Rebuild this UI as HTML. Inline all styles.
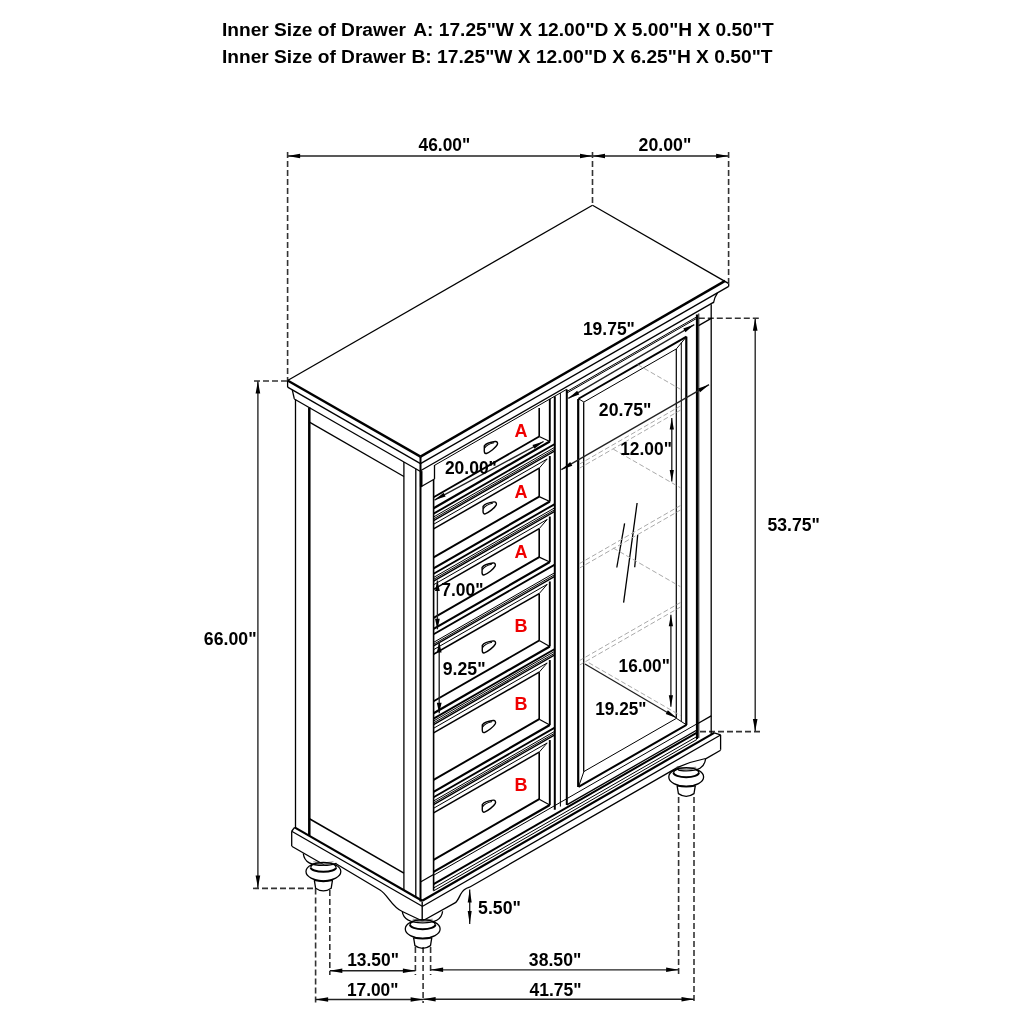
<!DOCTYPE html>
<html><head><meta charset="utf-8"><style>
html,body{margin:0;padding:0;background:#fff;}
svg{display:block;will-change:transform;}
text{font-family:"Liberation Sans",sans-serif;font-weight:bold;}
</style></head><body>
<svg width="1024" height="1024" viewBox="0 0 1024 1024">
<rect width="1024" height="1024" fill="#fff"/>
<g stroke-linecap="butt">
<line x1="287.60" y1="156.00" x2="592.50" y2="156.00" stroke="#222" stroke-width="1.35" />
<polygon points="287.60,156.00 300.10,153.70 300.10,158.30" fill="#000"/>
<polygon points="592.50,156.00 580.00,158.30 580.00,153.70" fill="#000"/>
<line x1="592.50" y1="156.00" x2="728.60" y2="156.00" stroke="#222" stroke-width="1.35" />
<polygon points="592.50,156.00 605.00,153.70 605.00,158.30" fill="#000"/>
<polygon points="728.60,156.00 716.10,158.30 716.10,153.70" fill="#000"/>
<line x1="287.60" y1="152.00" x2="287.60" y2="380.50" stroke="#333" stroke-width="1.6" stroke-dasharray="6 3"/>
<line x1="592.50" y1="152.00" x2="592.50" y2="205.00" stroke="#333" stroke-width="1.6" stroke-dasharray="6 3"/>
<line x1="728.60" y1="152.00" x2="728.60" y2="283.40" stroke="#333" stroke-width="1.6" stroke-dasharray="6 3"/>
<line x1="257.90" y1="381.00" x2="257.90" y2="888.00" stroke="#222" stroke-width="1.35" />
<polygon points="257.90,381.00 260.20,393.50 255.60,393.50" fill="#000"/>
<polygon points="257.90,888.00 255.60,875.50 260.20,875.50" fill="#000"/>
<line x1="254.00" y1="381.00" x2="287.60" y2="381.00" stroke="#333" stroke-width="1.6" stroke-dasharray="6 3"/>
<line x1="253.00" y1="888.40" x2="316.00" y2="888.40" stroke="#333" stroke-width="1.6" stroke-dasharray="6 3"/>
<line x1="755.20" y1="318.30" x2="755.20" y2="731.60" stroke="#222" stroke-width="1.35" />
<polygon points="755.20,318.30 757.50,330.80 752.90,330.80" fill="#000"/>
<polygon points="755.20,731.60 752.90,719.10 757.50,719.10" fill="#000"/>
<line x1="698.80" y1="318.30" x2="759.00" y2="318.30" stroke="#333" stroke-width="1.6" stroke-dasharray="6 3"/>
<line x1="700.00" y1="731.60" x2="760.00" y2="731.60" stroke="#333" stroke-width="1.6" stroke-dasharray="6 3"/>
<line x1="315.60" y1="888.40" x2="315.60" y2="1003.00" stroke="#333" stroke-width="1.6" stroke-dasharray="6 3"/>
<line x1="329.80" y1="890.00" x2="329.80" y2="975.00" stroke="#333" stroke-width="1.6" stroke-dasharray="6 3"/>
<line x1="415.40" y1="947.00" x2="415.40" y2="975.00" stroke="#333" stroke-width="1.6" stroke-dasharray="6 3"/>
<line x1="423.10" y1="947.00" x2="423.10" y2="1003.00" stroke="#333" stroke-width="1.6" stroke-dasharray="6 3"/>
<line x1="430.60" y1="947.00" x2="430.60" y2="975.00" stroke="#333" stroke-width="1.6" stroke-dasharray="6 3"/>
<line x1="678.60" y1="797.00" x2="678.60" y2="975.00" stroke="#333" stroke-width="1.6" stroke-dasharray="6 3"/>
<line x1="694.00" y1="797.00" x2="694.00" y2="1003.00" stroke="#333" stroke-width="1.6" stroke-dasharray="6 3"/>
<line x1="329.80" y1="970.70" x2="415.40" y2="970.70" stroke="#222" stroke-width="1.35" />
<polygon points="329.80,970.70 342.30,968.40 342.30,973.00" fill="#000"/>
<polygon points="415.40,970.70 402.90,973.00 402.90,968.40" fill="#000"/>
<line x1="315.60" y1="999.50" x2="423.10" y2="999.50" stroke="#222" stroke-width="1.35" />
<polygon points="315.60,999.50 328.10,997.20 328.10,1001.80" fill="#000"/>
<polygon points="423.10,999.50 410.60,1001.80 410.60,997.20" fill="#000"/>
<line x1="430.60" y1="969.80" x2="678.60" y2="969.80" stroke="#222" stroke-width="1.35" />
<polygon points="430.60,969.80 443.10,967.50 443.10,972.10" fill="#000"/>
<polygon points="678.60,969.80 666.10,972.10 666.10,967.50" fill="#000"/>
<line x1="423.10" y1="999.20" x2="694.00" y2="999.20" stroke="#222" stroke-width="1.35" />
<polygon points="423.10,999.20 435.60,996.90 435.60,1001.50" fill="#000"/>
<polygon points="694.00,999.20 681.50,1001.50 681.50,996.90" fill="#000"/>
<line x1="469.70" y1="889.50" x2="469.70" y2="924.00" stroke="#222" stroke-width="1.35" />
<polygon points="469.70,889.50 471.70,902.50 467.70,902.50" fill="#000"/>
<polygon points="469.70,924.00 467.70,911.00 471.70,911.00" fill="#000"/>
<line x1="592.50" y1="205.20" x2="287.60" y2="380.50" stroke="#000" stroke-width="1.3" />
<line x1="592.50" y1="205.20" x2="728.40" y2="283.40" stroke="#000" stroke-width="1.3" />
<line x1="287.60" y1="380.50" x2="420.50" y2="456.60" stroke="#000" stroke-width="2.4" />
<line x1="420.50" y1="456.60" x2="725.10" y2="280.90" stroke="#000" stroke-width="2.4" />
<line x1="287.60" y1="387.18" x2="420.50" y2="463.60" stroke="#000" stroke-width="1.3" />
<line x1="420.50" y1="463.60" x2="728.70" y2="286.38" stroke="#000" stroke-width="1.3" />
<line x1="287.60" y1="380.50" x2="287.60" y2="387.18" stroke="#000" stroke-width="1.3" />
<line x1="728.70" y1="283.40" x2="728.70" y2="286.38" stroke="#000" stroke-width="1.3" />
<line x1="294.30" y1="398.94" x2="420.50" y2="471.50" stroke="#000" stroke-width="1.3" />
<line x1="420.50" y1="470.80" x2="713.40" y2="302.38" stroke="#000" stroke-width="1.3" />
<path d="M 292.3 389.89 Q 293.2 394 294.3 398.94" stroke="#000" stroke-width="1.3" fill="none" />
<path d="M 717.5 292.83 Q 714.5 297 713.4 303.08" stroke="#000" stroke-width="1.3" fill="none" />
<line x1="295.50" y1="399.62" x2="295.50" y2="827.92" stroke="#000" stroke-width="1.3" />
<line x1="309.30" y1="407.56" x2="309.30" y2="835.86" stroke="#000" stroke-width="2.5" />
<line x1="403.90" y1="461.95" x2="403.90" y2="890.25" stroke="#000" stroke-width="1.3" />
<line x1="415.80" y1="468.80" x2="415.80" y2="897.10" stroke="#000" stroke-width="1.3" />
<line x1="309.00" y1="421.89" x2="403.90" y2="476.45" stroke="#000" stroke-width="1.3" />
<line x1="309.00" y1="818.49" x2="403.90" y2="873.06" stroke="#000" stroke-width="1.5" />
<line x1="294.60" y1="827.41" x2="422.20" y2="900.78" stroke="#000" stroke-width="2.2" />
<line x1="291.70" y1="831.24" x2="422.20" y2="906.28" stroke="#000" stroke-width="1.3" />
<line x1="294.60" y1="827.41" x2="291.70" y2="831.24" stroke="#000" stroke-width="1.3" />
<line x1="291.70" y1="831.24" x2="291.70" y2="845.90" stroke="#000" stroke-width="1.3" />
<line x1="291.70" y1="846.24" x2="324.30" y2="864.99" stroke="#000" stroke-width="1.3" />
<path d="M 336 863.81 L 380 890.01 C 388 894.91, 392 907.41, 402.3 911.5 L 422.4 921.0" stroke="#000" stroke-width="1.3" fill="none" />
<line x1="420.50" y1="456.60" x2="420.50" y2="901.50" stroke="#000" stroke-width="2.0" />
<line x1="422.20" y1="901.50" x2="422.20" y2="920.90" stroke="#000" stroke-width="1.4" />
<line x1="434.50" y1="464.95" x2="434.50" y2="478.95" stroke="#000" stroke-width="1.3" />
<line x1="420.50" y1="487.00" x2="434.50" y2="478.95" stroke="#000" stroke-width="1.3" />
<line x1="421.20" y1="471.10" x2="421.20" y2="486.60" stroke="#000" stroke-width="2.6" />
<line x1="433.60" y1="479.47" x2="433.60" y2="890.87" stroke="#000" stroke-width="1.6" />
<line x1="420.50" y1="882.00" x2="433.60" y2="874.47" stroke="#000" stroke-width="1.3" />
<line x1="434.50" y1="465.35" x2="566.80" y2="389.28" stroke="#000" stroke-width="1.0" />
<line x1="554.80" y1="396.28" x2="554.80" y2="809.78" stroke="#000" stroke-width="2.0" />
<line x1="560.40" y1="393.06" x2="560.40" y2="806.56" stroke="#000" stroke-width="1.0" />
<line x1="566.80" y1="389.38" x2="566.80" y2="804.88" stroke="#000" stroke-width="2.0" />
<line x1="697.00" y1="314.51" x2="697.00" y2="739.01" stroke="#000" stroke-width="2.2" />
<line x1="711.20" y1="304.35" x2="711.20" y2="734.85" stroke="#000" stroke-width="1.3" />
<line x1="697.00" y1="724.01" x2="711.20" y2="715.85" stroke="#000" stroke-width="1.3" />
<line x1="698.60" y1="325.59" x2="711.20" y2="318.35" stroke="#000" stroke-width="1.3" />
<line x1="698.80" y1="313.48" x2="698.80" y2="737.98" stroke="#000" stroke-width="1.0" />
<line x1="433.60" y1="497.27" x2="539.20" y2="436.55" stroke="#000" stroke-width="1.9" />
<line x1="539.20" y1="408.05" x2="539.20" y2="436.55" stroke="#000" stroke-width="1.6" />
<line x1="549.80" y1="398.95" x2="549.80" y2="441.45" stroke="#000" stroke-width="1.9" />
<line x1="433.60" y1="508.27" x2="549.80" y2="441.45" stroke="#000" stroke-width="2.2" />
<line x1="539.20" y1="436.55" x2="549.80" y2="441.45" stroke="#000" stroke-width="1.2" />
<g transform="translate(490.80,447.68)"><path d="M -6.5,-1.8 C -5,-4 -1,-5.5 4.4,-6.2 C 6.5,-6.4 7.2,-4.5 6.5,-3 C 5,0 -1,4.5 -4.4,5.8 C -6.2,6.3 -6.8,4.5 -6.5,1.5 Z" fill="none" stroke="#000" stroke-width="1.4"/><path d="M -6.3,0.6 C -4.5,-2.6 -0.5,-4.2 3.2,-4.9" fill="none" stroke="#000" stroke-width="1.1"/></g>
<line x1="433.60" y1="528.87" x2="539.20" y2="468.15" stroke="#000" stroke-width="1.5" />
<line x1="433.60" y1="524.27" x2="547.20" y2="458.95" stroke="#000" stroke-width="1.0" />
<line x1="539.20" y1="468.15" x2="547.20" y2="458.95" stroke="#000" stroke-width="1.0" />
<line x1="433.60" y1="557.37" x2="539.20" y2="496.65" stroke="#000" stroke-width="1.9" />
<line x1="539.20" y1="468.15" x2="539.20" y2="496.65" stroke="#000" stroke-width="1.6" />
<line x1="549.80" y1="456.05" x2="549.80" y2="501.55" stroke="#000" stroke-width="1.9" />
<line x1="433.60" y1="568.37" x2="549.80" y2="501.55" stroke="#000" stroke-width="2.2" />
<line x1="539.20" y1="496.65" x2="549.80" y2="501.55" stroke="#000" stroke-width="1.2" />
<g transform="translate(489.60,508.07)"><path d="M -6.5,-1.8 C -5,-4 -1,-5.5 4.4,-6.2 C 6.5,-6.4 7.2,-4.5 6.5,-3 C 5,0 -1,4.5 -4.4,5.8 C -6.2,6.3 -6.8,4.5 -6.5,1.5 Z" fill="none" stroke="#000" stroke-width="1.4"/><path d="M -6.3,0.6 C -4.5,-2.6 -0.5,-4.2 3.2,-4.9" fill="none" stroke="#000" stroke-width="1.1"/></g>
<line x1="433.60" y1="589.37" x2="539.20" y2="528.65" stroke="#000" stroke-width="1.5" />
<line x1="433.60" y1="584.77" x2="547.20" y2="519.45" stroke="#000" stroke-width="1.0" />
<line x1="539.20" y1="528.65" x2="547.20" y2="519.45" stroke="#000" stroke-width="1.0" />
<line x1="433.60" y1="617.87" x2="539.20" y2="557.15" stroke="#000" stroke-width="1.9" />
<line x1="539.20" y1="528.65" x2="539.20" y2="557.15" stroke="#000" stroke-width="1.6" />
<line x1="549.80" y1="516.55" x2="549.80" y2="562.05" stroke="#000" stroke-width="1.9" />
<line x1="433.60" y1="628.87" x2="549.80" y2="562.05" stroke="#000" stroke-width="2.2" />
<line x1="539.20" y1="557.15" x2="549.80" y2="562.05" stroke="#000" stroke-width="1.2" />
<g transform="translate(488.60,569.14)"><path d="M -6.5,-1.8 C -5,-4 -1,-5.5 4.4,-6.2 C 6.5,-6.4 7.2,-4.5 6.5,-3 C 5,0 -1,4.5 -4.4,5.8 C -6.2,6.3 -6.8,4.5 -6.5,1.5 Z" fill="none" stroke="#000" stroke-width="1.4"/><path d="M -6.3,0.6 C -4.5,-2.6 -0.5,-4.2 3.2,-4.9" fill="none" stroke="#000" stroke-width="1.1"/></g>
<line x1="433.60" y1="654.27" x2="539.20" y2="593.55" stroke="#000" stroke-width="1.5" />
<line x1="433.60" y1="649.67" x2="547.20" y2="584.35" stroke="#000" stroke-width="1.0" />
<line x1="539.20" y1="593.55" x2="547.20" y2="584.35" stroke="#000" stroke-width="1.0" />
<line x1="433.60" y1="701.27" x2="539.20" y2="640.55" stroke="#000" stroke-width="1.9" />
<line x1="539.20" y1="593.55" x2="539.20" y2="640.55" stroke="#000" stroke-width="1.6" />
<line x1="549.80" y1="581.45" x2="549.80" y2="646.45" stroke="#000" stroke-width="1.9" />
<line x1="433.60" y1="713.27" x2="549.80" y2="646.45" stroke="#000" stroke-width="2.2" />
<line x1="539.20" y1="640.55" x2="549.80" y2="646.45" stroke="#000" stroke-width="1.2" />
<g transform="translate(488.80,647.13)"><path d="M -6.5,-1.8 C -5,-4 -1,-5.5 4.4,-6.2 C 6.5,-6.4 7.2,-4.5 6.5,-3 C 5,0 -1,4.5 -4.4,5.8 C -6.2,6.3 -6.8,4.5 -6.5,1.5 Z" fill="none" stroke="#000" stroke-width="1.4"/><path d="M -6.3,0.6 C -4.5,-2.6 -0.5,-4.2 3.2,-4.9" fill="none" stroke="#000" stroke-width="1.1"/></g>
<line x1="433.60" y1="732.87" x2="539.20" y2="672.15" stroke="#000" stroke-width="1.5" />
<line x1="433.60" y1="728.27" x2="547.20" y2="662.95" stroke="#000" stroke-width="1.0" />
<line x1="539.20" y1="672.15" x2="547.20" y2="662.95" stroke="#000" stroke-width="1.0" />
<line x1="433.60" y1="779.87" x2="539.20" y2="719.15" stroke="#000" stroke-width="1.9" />
<line x1="539.20" y1="672.15" x2="539.20" y2="719.15" stroke="#000" stroke-width="1.6" />
<line x1="549.80" y1="660.05" x2="549.80" y2="725.05" stroke="#000" stroke-width="1.9" />
<line x1="433.60" y1="791.87" x2="549.80" y2="725.05" stroke="#000" stroke-width="2.2" />
<line x1="539.20" y1="719.15" x2="549.80" y2="725.05" stroke="#000" stroke-width="1.2" />
<g transform="translate(488.80,726.73)"><path d="M -6.5,-1.8 C -5,-4 -1,-5.5 4.4,-6.2 C 6.5,-6.4 7.2,-4.5 6.5,-3 C 5,0 -1,4.5 -4.4,5.8 C -6.2,6.3 -6.8,4.5 -6.5,1.5 Z" fill="none" stroke="#000" stroke-width="1.4"/><path d="M -6.3,0.6 C -4.5,-2.6 -0.5,-4.2 3.2,-4.9" fill="none" stroke="#000" stroke-width="1.1"/></g>
<line x1="433.60" y1="812.87" x2="539.20" y2="752.15" stroke="#000" stroke-width="1.5" />
<line x1="433.60" y1="808.27" x2="547.20" y2="742.95" stroke="#000" stroke-width="1.0" />
<line x1="539.20" y1="752.15" x2="547.20" y2="742.95" stroke="#000" stroke-width="1.0" />
<line x1="433.60" y1="859.87" x2="539.20" y2="799.15" stroke="#000" stroke-width="1.9" />
<line x1="539.20" y1="752.15" x2="539.20" y2="799.15" stroke="#000" stroke-width="1.6" />
<line x1="549.80" y1="740.05" x2="549.80" y2="805.05" stroke="#000" stroke-width="1.9" />
<line x1="433.60" y1="871.87" x2="549.80" y2="805.05" stroke="#000" stroke-width="2.2" />
<line x1="539.20" y1="799.15" x2="549.80" y2="805.05" stroke="#000" stroke-width="1.2" />
<g transform="translate(488.80,806.33)"><path d="M -6.5,-1.8 C -5,-4 -1,-5.5 4.4,-6.2 C 6.5,-6.4 7.2,-4.5 6.5,-3 C 5,0 -1,4.5 -4.4,5.8 C -6.2,6.3 -6.8,4.5 -6.5,1.5 Z" fill="none" stroke="#000" stroke-width="1.4"/><path d="M -6.3,0.6 C -4.5,-2.6 -0.5,-4.2 3.2,-4.9" fill="none" stroke="#000" stroke-width="1.1"/></g>
<line x1="433.60" y1="513.67" x2="554.80" y2="443.98" stroke="#000" stroke-width="1.9" />
<line x1="433.60" y1="516.97" x2="554.80" y2="447.28" stroke="#000" stroke-width="1.0" />
<line x1="433.60" y1="518.87" x2="554.80" y2="449.18" stroke="#000" stroke-width="1.0" />
<line x1="433.60" y1="520.57" x2="554.80" y2="450.88" stroke="#000" stroke-width="1.4" />
<line x1="433.60" y1="573.77" x2="554.80" y2="504.08" stroke="#000" stroke-width="1.9" />
<line x1="433.60" y1="577.47" x2="554.80" y2="507.78" stroke="#000" stroke-width="1.0" />
<line x1="433.60" y1="579.37" x2="554.80" y2="509.68" stroke="#000" stroke-width="1.0" />
<line x1="433.60" y1="581.07" x2="554.80" y2="511.38" stroke="#000" stroke-width="1.4" />
<line x1="433.60" y1="634.27" x2="554.80" y2="564.58" stroke="#000" stroke-width="1.9" />
<line x1="433.60" y1="642.37" x2="554.80" y2="572.68" stroke="#000" stroke-width="1.0" />
<line x1="433.60" y1="644.27" x2="554.80" y2="574.58" stroke="#000" stroke-width="1.0" />
<line x1="433.60" y1="645.97" x2="554.80" y2="576.28" stroke="#000" stroke-width="1.4" />
<line x1="433.60" y1="718.67" x2="554.80" y2="648.98" stroke="#000" stroke-width="1.9" />
<line x1="433.60" y1="720.97" x2="554.80" y2="651.28" stroke="#000" stroke-width="1.0" />
<line x1="433.60" y1="722.87" x2="554.80" y2="653.18" stroke="#000" stroke-width="1.0" />
<line x1="433.60" y1="724.57" x2="554.80" y2="654.88" stroke="#000" stroke-width="1.4" />
<line x1="433.60" y1="797.27" x2="554.80" y2="727.58" stroke="#000" stroke-width="1.9" />
<line x1="433.60" y1="800.97" x2="554.80" y2="731.28" stroke="#000" stroke-width="1.0" />
<line x1="433.60" y1="802.87" x2="554.80" y2="733.18" stroke="#000" stroke-width="1.0" />
<line x1="433.60" y1="804.57" x2="554.80" y2="734.88" stroke="#000" stroke-width="1.4" />
<line x1="433.60" y1="875.27" x2="697.00" y2="723.81" stroke="#000" stroke-width="1.0" />
<line x1="433.60" y1="884.07" x2="697.00" y2="732.61" stroke="#000" stroke-width="2.0" />
<line x1="433.60" y1="887.97" x2="697.00" y2="736.51" stroke="#000" stroke-width="1.0" />
<line x1="433.60" y1="890.87" x2="697.00" y2="739.41" stroke="#000" stroke-width="1.0" />
<line x1="566.80" y1="391.58" x2="697.00" y2="316.71" stroke="#000" stroke-width="1.0" />
<line x1="566.80" y1="393.08" x2="697.00" y2="318.21" stroke="#000" stroke-width="1.0" />
<line x1="578.50" y1="398.75" x2="686.50" y2="336.65" stroke="#000" stroke-width="2.0" />
<line x1="578.50" y1="786.95" x2="686.50" y2="724.85" stroke="#000" stroke-width="2.0" />
<line x1="578.20" y1="398.92" x2="578.20" y2="787.12" stroke="#000" stroke-width="2.2" />
<line x1="686.30" y1="336.77" x2="686.30" y2="724.97" stroke="#000" stroke-width="2.2" />
<line x1="583.90" y1="402.05" x2="676.40" y2="348.86" stroke="#000" stroke-width="1.0" />
<line x1="583.90" y1="771.55" x2="676.40" y2="718.36" stroke="#000" stroke-width="1.0" />
<line x1="583.70" y1="402.16" x2="583.70" y2="771.66" stroke="#000" stroke-width="1.3" />
<line x1="676.30" y1="348.92" x2="676.30" y2="718.42" stroke="#000" stroke-width="1.2" />
<line x1="681.30" y1="342.54" x2="681.30" y2="721.54" stroke="#000" stroke-width="1.0" />
<line x1="578.50" y1="398.75" x2="583.90" y2="402.05" stroke="#000" stroke-width="1.0" />
<line x1="686.50" y1="336.65" x2="676.40" y2="348.86" stroke="#000" stroke-width="1.0" />
<line x1="578.50" y1="786.95" x2="583.90" y2="771.55" stroke="#000" stroke-width="1.0" />
<line x1="686.50" y1="724.85" x2="676.40" y2="718.36" stroke="#000" stroke-width="1.0" />
<line x1="566.80" y1="804.88" x2="697.00" y2="730.01" stroke="#000" stroke-width="1.3" />
<line x1="637.10" y1="503.00" x2="623.60" y2="602.70" stroke="#000" stroke-width="1.3" />
<line x1="624.60" y1="523.40" x2="616.80" y2="567.50" stroke="#000" stroke-width="1.3" />
<line x1="637.70" y1="534.70" x2="634.70" y2="567.30" stroke="#000" stroke-width="1.3" />
<line x1="579.00" y1="464.36" x2="680.50" y2="406.00" stroke="#aaa" stroke-width="1.0" stroke-dasharray="5 2.5"/>
<line x1="579.00" y1="468.46" x2="680.50" y2="410.10" stroke="#aaa" stroke-width="1.0" stroke-dasharray="5 2.5"/>
<line x1="579.00" y1="563.86" x2="680.50" y2="505.50" stroke="#aaa" stroke-width="1.0" stroke-dasharray="5 2.5"/>
<line x1="579.00" y1="568.36" x2="680.50" y2="510.00" stroke="#aaa" stroke-width="1.0" stroke-dasharray="5 2.5"/>
<line x1="579.00" y1="660.86" x2="680.50" y2="602.50" stroke="#aaa" stroke-width="1.0" stroke-dasharray="5 2.5"/>
<line x1="579.00" y1="665.36" x2="680.50" y2="607.00" stroke="#aaa" stroke-width="1.0" stroke-dasharray="5 2.5"/>
<line x1="637.70" y1="364.69" x2="680.50" y2="389.30" stroke="#aaa" stroke-width="1.0" stroke-dasharray="5 2.5"/>
<line x1="613.30" y1="449.16" x2="680.50" y2="487.80" stroke="#aaa" stroke-width="1.0" stroke-dasharray="5 2.5"/>
<line x1="613.20" y1="548.00" x2="680.50" y2="586.70" stroke="#aaa" stroke-width="1.0" stroke-dasharray="5 2.5"/>
<line x1="588.80" y1="662.77" x2="680.50" y2="715.50" stroke="#aaa" stroke-width="1.0" stroke-dasharray="5 2.5"/>
<line x1="422.20" y1="900.82" x2="714.20" y2="732.92" stroke="#000" stroke-width="2.2" />
<line x1="422.20" y1="906.52" x2="720.60" y2="734.94" stroke="#000" stroke-width="1.3" />
<line x1="714.20" y1="732.92" x2="720.60" y2="734.94" stroke="#000" stroke-width="1.3" />
<line x1="720.60" y1="734.94" x2="720.60" y2="749.80" stroke="#000" stroke-width="1.3" />
<path d="M 422.4 921.0 L 455 902.9 C 457.5 901.5, 459 897.5, 460.5 894.5 C 462.5 890.8, 465 888.6, 469.5 887.23 L 677.6 767.37" stroke="#000" stroke-width="1.3" fill="none" />
<path d="M 705.6 758.87 L 720.6 750.24" stroke="#000" stroke-width="1.3" fill="none" />
<line x1="568.30" y1="398.40" x2="694.30" y2="324.60" stroke="#222" stroke-width="1.35" />
<polygon points="568.30,398.40 577.16,390.78 579.28,394.40" fill="#000"/>
<polygon points="694.30,324.60 685.44,332.22 683.32,328.60" fill="#000"/>
<line x1="561.30" y1="469.64" x2="709.00" y2="384.71" stroke="#222" stroke-width="1.35" />
<polygon points="561.30,469.64 570.22,462.09 572.32,465.73" fill="#000"/>
<polygon points="709.00,384.71 700.08,392.27 697.98,388.62" fill="#000"/>
<line x1="671.80" y1="418.00" x2="671.80" y2="481.60" stroke="#222" stroke-width="1.35" />
<polygon points="671.80,418.00 673.90,429.50 669.70,429.50" fill="#000"/>
<polygon points="671.80,481.60 669.70,470.10 673.90,470.10" fill="#000"/>
<line x1="670.90" y1="614.80" x2="670.90" y2="706.70" stroke="#222" stroke-width="1.35" />
<polygon points="670.90,614.80 673.00,626.30 668.80,626.30" fill="#000"/>
<polygon points="670.90,706.70 668.80,695.20 673.00,695.20" fill="#000"/>
<line x1="585.00" y1="664.00" x2="676.70" y2="718.00" stroke="#222" stroke-width="1.35" />
<polygon points="676.70,718.00 665.72,713.97 667.86,710.35" fill="#000"/>
<line x1="434.50" y1="500.10" x2="543.60" y2="441.50" stroke="#222" stroke-width="1.35" />
<polygon points="434.50,500.10 443.64,492.81 445.62,496.51" fill="#000"/>
<polygon points="543.60,441.50 534.46,448.79 532.48,445.09" fill="#000"/>
<line x1="437.40" y1="580.50" x2="437.40" y2="629.30" stroke="#222" stroke-width="1.35" />
<polygon points="437.40,580.50 439.80,591.00 435.00,591.00" fill="#000"/>
<polygon points="437.40,629.30 435.00,618.80 439.80,618.80" fill="#000"/>
<line x1="439.20" y1="642.00" x2="439.20" y2="713.30" stroke="#222" stroke-width="1.35" />
<polygon points="439.20,642.00 441.60,652.50 436.80,652.50" fill="#000"/>
<polygon points="439.20,713.30 436.80,702.80 441.60,702.80" fill="#000"/>
<path d="M 303.30 853.50 C 304.30 862.60, 311.40 865.40, 323.40 865.40 C 335.40 865.40, 335.50 862.60, 336.50 863.60" stroke="#000" stroke-width="1.3" fill="none" />
<path d="M 313.40 861.80 Q 323.40 864.00 333.40 861.80" stroke="#555" stroke-width="0.7" fill="none" />
<path d="M 314.90 862.80 Q 323.40 865.00 331.90 862.80" stroke="#555" stroke-width="0.7" fill="none" />
<path d="M 316.40 863.80 Q 323.40 866.00 330.40 863.80" stroke="#555" stroke-width="0.7" fill="none" />
<ellipse cx="323.40" cy="871.60" rx="17.4" ry="9.3" fill="none" stroke="#000" stroke-width="1.3"/>
<path d="M 310.70 867.40 A 12.7 4.4 0 0 0 336.10 867.40" stroke="#000" stroke-width="2.0" fill="none" />
<path d="M 310.70 867.40 Q 311.10 864.80 313.90 864.20" stroke="#000" stroke-width="1.2" fill="none" />
<path d="M 336.10 867.40 Q 335.70 864.80 332.90 864.20" stroke="#000" stroke-width="1.2" fill="none" />
<path d="M 314.30 880.20 L 315.60 888.20 Q 323.40 893.60 331.20 888.20 L 332.50 880.20" stroke="#000" stroke-width="1.3" fill="none" />
<path d="M 314.30 880.20 Q 323.40 882.40 332.50 880.20" stroke="#000" stroke-width="1.7" fill="none" />
<path d="M 402.30 911.50 C 403.30 920.00, 410.70 922.80, 422.70 922.80 C 434.70 922.80, 441.60 920.00, 442.60 911.20" stroke="#000" stroke-width="1.3" fill="none" />
<path d="M 412.70 919.20 Q 422.70 921.40 432.70 919.20" stroke="#555" stroke-width="0.7" fill="none" />
<path d="M 414.20 920.20 Q 422.70 922.40 431.20 920.20" stroke="#555" stroke-width="0.7" fill="none" />
<path d="M 415.70 921.20 Q 422.70 923.40 429.70 921.20" stroke="#555" stroke-width="0.7" fill="none" />
<ellipse cx="422.70" cy="929.00" rx="17.4" ry="9.3" fill="none" stroke="#000" stroke-width="1.3"/>
<path d="M 410.00 924.80 A 12.7 4.4 0 0 0 435.40 924.80" stroke="#000" stroke-width="2.0" fill="none" />
<path d="M 410.00 924.80 Q 410.40 922.20 413.20 921.60" stroke="#000" stroke-width="1.2" fill="none" />
<path d="M 435.40 924.80 Q 435.00 922.20 432.20 921.60" stroke="#000" stroke-width="1.2" fill="none" />
<path d="M 413.60 937.60 L 414.90 945.60 Q 422.70 951.00 430.50 945.60 L 431.80 937.60" stroke="#000" stroke-width="1.3" fill="none" />
<path d="M 413.60 937.60 Q 422.70 939.80 431.80 937.60" stroke="#000" stroke-width="1.7" fill="none" />
<path d="M 677.60 766.70 C 678.60 768.00, 674.20 770.80, 686.20 770.80 C 698.20 770.80, 704.60 768.00, 705.60 758.50" stroke="#000" stroke-width="1.3" fill="none" />
<path d="M 676.20 767.20 Q 686.20 769.40 696.20 767.20" stroke="#555" stroke-width="0.7" fill="none" />
<path d="M 677.70 768.20 Q 686.20 770.40 694.70 768.20" stroke="#555" stroke-width="0.7" fill="none" />
<path d="M 679.20 769.20 Q 686.20 771.40 693.20 769.20" stroke="#555" stroke-width="0.7" fill="none" />
<ellipse cx="686.20" cy="777.00" rx="17.4" ry="9.3" fill="none" stroke="#000" stroke-width="1.3"/>
<path d="M 673.50 772.80 A 12.7 4.4 0 0 0 698.90 772.80" stroke="#000" stroke-width="2.0" fill="none" />
<path d="M 673.50 772.80 Q 673.90 770.20 676.70 769.60" stroke="#000" stroke-width="1.2" fill="none" />
<path d="M 698.90 772.80 Q 698.50 770.20 695.70 769.60" stroke="#000" stroke-width="1.2" fill="none" />
<path d="M 677.10 785.60 L 678.40 793.60 Q 686.20 799.00 694.00 793.60 L 695.30 785.60" stroke="#000" stroke-width="1.3" fill="none" />
<path d="M 677.10 785.60 Q 686.20 787.80 695.30 785.60" stroke="#000" stroke-width="1.7" fill="none" />
<path d="M 677.6 767.37 L 690 762.5 L 705.6 758.5" stroke="#000" stroke-width="1.2" fill="none" />
</g>
<g>
<text x="222.0" y="35.5" font-size="18.0" fill="#000" textLength="184.0" lengthAdjust="spacingAndGlyphs" xml:space="preserve">Inner Size of Drawer</text>
<text x="413.2" y="35.5" font-size="18.0" fill="#000" textLength="360.5" lengthAdjust="spacingAndGlyphs" xml:space="preserve">A: 17.25&quot;W X 12.00&quot;D X 5.00&quot;H X 0.50&quot;T</text>
<text x="222.0" y="62.8" font-size="18.0" fill="#000" textLength="184.0" lengthAdjust="spacingAndGlyphs" xml:space="preserve">Inner Size of Drawer</text>
<text x="411.5" y="62.8" font-size="18.0" fill="#000" textLength="361.0" lengthAdjust="spacingAndGlyphs" xml:space="preserve">B: 17.25&quot;W X 12.00&quot;D X 6.25&quot;H X 0.50&quot;T</text>
<text x="520.9" y="437.2" font-size="18" fill="#f00000" text-anchor="middle">A</text>
<text x="520.9" y="498.0" font-size="18" fill="#f00000" text-anchor="middle">A</text>
<text x="520.9" y="558.0" font-size="18" fill="#f00000" text-anchor="middle">A</text>
<text x="520.9" y="632.3" font-size="18" fill="#f00000" text-anchor="middle">B</text>
<text x="520.9" y="710.4" font-size="18" fill="#f00000" text-anchor="middle">B</text>
<text x="520.9" y="790.8" font-size="18" fill="#f00000" text-anchor="middle">B</text>
<text x="418.5" y="150.5" font-size="17.5" fill="#000" textLength="51.69" lengthAdjust="spacingAndGlyphs" xml:space="preserve">46.00&quot;</text>
<text x="638.59" y="150.5" font-size="17.5" fill="#000" textLength="52.72" lengthAdjust="spacingAndGlyphs" xml:space="preserve">20.00&quot;</text>
<text x="203.89" y="644.8" font-size="17.5" fill="#000" textLength="52.72" lengthAdjust="spacingAndGlyphs" xml:space="preserve">66.00&quot;</text>
<text x="767.49" y="530.8" font-size="17.5" fill="#000" textLength="52.41" lengthAdjust="spacingAndGlyphs" xml:space="preserve">53.75&quot;</text>
<text x="582.9" y="334.8" font-size="17.5" fill="#000" textLength="51.99" lengthAdjust="spacingAndGlyphs" xml:space="preserve">19.75&quot;</text>
<text x="598.79" y="416.1" font-size="17.5" fill="#000" textLength="52.72" lengthAdjust="spacingAndGlyphs" xml:space="preserve">20.75&quot;</text>
<text x="620.21" y="455.4" font-size="17.5" fill="#000" textLength="51.68" lengthAdjust="spacingAndGlyphs" xml:space="preserve">12.00&quot;</text>
<text x="618.62" y="671.5" font-size="17.5" fill="#000" textLength="51.26" lengthAdjust="spacingAndGlyphs" xml:space="preserve">16.00&quot;</text>
<text x="595.22" y="714.8" font-size="17.5" fill="#000" textLength="51.26" lengthAdjust="spacingAndGlyphs" xml:space="preserve">19.25&quot;</text>
<text x="347.21" y="965.5" font-size="17.5" fill="#000" textLength="51.68" lengthAdjust="spacingAndGlyphs" xml:space="preserve">13.50&quot;</text>
<text x="346.91" y="995.9" font-size="17.5" fill="#000" textLength="51.57" lengthAdjust="spacingAndGlyphs" xml:space="preserve">17.00&quot;</text>
<text x="528.89" y="965.8" font-size="17.5" fill="#000" textLength="52.41" lengthAdjust="spacingAndGlyphs" xml:space="preserve">38.50&quot;</text>
<text x="529.6" y="995.9" font-size="17.5" fill="#000" textLength="51.99" lengthAdjust="spacingAndGlyphs" xml:space="preserve">41.75&quot;</text>
<text x="478.09" y="913.7" font-size="17.5" fill="#000" textLength="42.78" lengthAdjust="spacingAndGlyphs" xml:space="preserve">5.50&quot;</text>
<text x="444.9" y="474.1" font-size="17.5" fill="#000" textLength="51.99" lengthAdjust="spacingAndGlyphs" xml:space="preserve">20.00&quot;</text>
<text x="441.3" y="595.8" font-size="17.5" fill="#000" textLength="42.15" lengthAdjust="spacingAndGlyphs" xml:space="preserve">7.00&quot;</text>
<text x="442.79" y="674.6" font-size="17.5" fill="#000" textLength="42.78" lengthAdjust="spacingAndGlyphs" xml:space="preserve">9.25&quot;</text>
</g>
</svg>
</body></html>
